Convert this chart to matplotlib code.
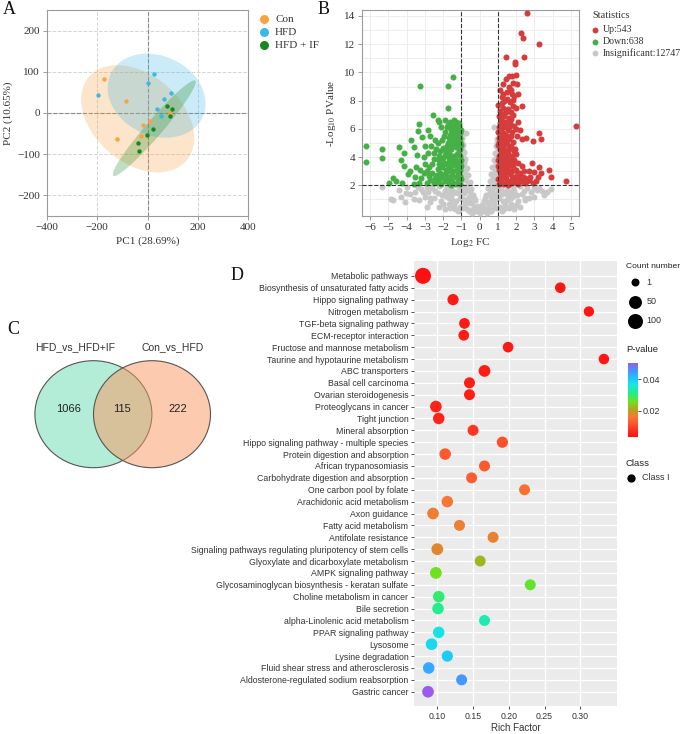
import matplotlib
matplotlib.use("Agg")
import matplotlib.pyplot as plt
import numpy as np
from matplotlib.patches import Ellipse
from matplotlib.colors import LinearSegmentedColormap, Normalize
from matplotlib.cm import ScalarMappable

SERIF = "Liberation Serif"
SANS = "Liberation Sans"
plt.rcParams["mathtext.fontset"] = "stix"

W, H = 682, 734

# ---------------- A: PCA ----------------
pca_groups = ["Con", "HFD", "HFD + IF"]
pca_colors = ["#F9A23F", "#3CB8E3", "#18881C"]
con_pc1 = [-174, -87, -120, -19, 11, -27, 89]
con_pc2 = [82, 30, -63, -29, -19, -55, 0]
hfd_pc1 = [-198, 26, 1, 93, 64, 36, 55]
hfd_pc2 = [43, 95, 72, 48, 34, 10, -7]
hfdif_pc1 = [79, 98, 89, 23, -2, -36, -35]
hfdif_pc2 = [18, 9, -7, -39, -53, -74, -93]
# confidence ellipses: centre, half extent in x / y, correlation
ell_cx = [-39, 36, 27]
ell_cy = [-14, 42, -37]
ell_rx = [225, 195, 165]
ell_ry = [130, 102, 116]
ell_rho = [-0.36, -0.19, 0.965]

# ---------------- B: volcano ----------------
volcano_counts = {"Up": 543, "Down": 638, "Insignificant": 12747}
up_pts = [
    (2.6, 14.2), (2.25, 12.8), (2.38, 12.46), (3.27, 12.04), (1.47, 11.1), (2.44, 11.07),
    (1.93, 10.74), (1.93, 10.57), (5.27, 6.18), (3.27, 5.69), (3.35, 5.26), (2.93, 5.11),
    (2.53, 5.35), (2.2, 5.92), (2.05, 5.52), (3.78, 3.09), (3.89, 2.61), (4.73, 2.31),
    (2.89, 3.6), (3.25, 3.32), (3.35, 2.9), (3.0, 2.92), (2.75, 2.61), (2.31, 3.39), (2.47, 2.49),
    (1.05, 2.1), (1.2, 2.2), (1.35, 2.1), (1.5, 2.3), (1.7, 2.15), (1.9, 2.25), (2.1, 2.1),
    (2.3, 2.3), (2.5, 2.15), (2.7, 2.4), (1.1, 2.6), (1.3, 2.7), (1.45, 2.55), (1.65, 2.8),
    (1.85, 2.6), (2.05, 2.75), (2.25, 2.6), (1.05, 3.1), (1.2, 3.0), (1.4, 3.2), (1.6, 3.05),
    (1.8, 3.3), (2.0, 3.1), (1.1, 3.6), (1.25, 3.5), (1.45, 3.7), (1.65, 3.55), (1.9, 3.8),
    (1.05, 4.1), (1.2, 4.2), (1.35, 4.0), (1.55, 4.3), (1.75, 4.1), (1.1, 4.6), (1.3, 4.7),
    (1.5, 4.5), (1.7, 4.8), (1.95, 4.6), (1.05, 5.1), (1.2, 5.2), (1.4, 5.0), (1.6, 5.3),
    (1.85, 5.1), (1.1, 5.6), (1.3, 5.7), (1.5, 5.5), (1.75, 5.8), (1.05, 6.1), (1.25, 6.3),
    (1.45, 6.1), (1.65, 6.4), (1.9, 6.2), (1.15, 6.7), (1.35, 6.9), (1.6, 6.8), (1.85, 7.0),
    (1.1, 7.3), (1.3, 7.5), (1.55, 7.4), (2.0, 7.45), (1.2, 7.8), (1.5, 8.1), (1.82, 8.07),
    (1.75, 8.5), (1.11, 8.75), (1.27, 8.5), (1.69, 8.75), (1.6, 9.0), (1.44, 9.5), (1.6, 9.75),
    (1.78, 9.75), (1.84, 9.27), (2.0, 9.8), (2.0, 5.97), (1.15, 2.35), (1.28, 3.3), (1.15, 4.35),
    (1.25, 5.45), (1.15, 3.85), (1.35, 4.45), (1.4, 2.85), (1.22, 6.05), (1.55, 6.55),
    (1.02, 2.45), (1.18, 2.9), (1.32, 3.45), (1.48, 3.95), (1.62, 4.55), (1.42, 5.3), (1.58, 5.9),
    (1.08, 5.35), (1.38, 5.55), (1.02, 4.85), (1.28, 4.95), (1.5, 4.9), (1.72, 5.5), (1.12, 6.45),
    (1.4, 6.5), (1.05, 6.9), (1.25, 7.05), (1.45, 7.2), (1.7, 7.2), (1.02, 7.7), (1.35, 8.0),
    (1.65, 7.9), (1.9, 8.3), (1.2, 8.25), (1.55, 2.0), (1.75, 2.45), (1.95, 2.5), (2.15, 2.45),
    (2.4, 2.6), (2.6, 2.3), (2.2, 2.9), (1.75, 3.0), (1.55, 3.4), (1.85, 3.5), (2.1, 3.55),
    (1.7, 3.95), (2.0, 4.2), (1.9, 4.4), (1.3, 3.9), (1.5, 4.1), (1.02, 3.4), (1.02, 3.8),
    (1.02, 5.8), (1.6, 6.1), (1.7, 6.7), (2.1, 6.5), (1.85, 7.6), (2.1, 8.5), (2.05, 9.2),
    (1.3, 9.2), (1.5, 8.6), (2.3, 7.6), (2.3, 5.3), (2.7, 3.0), (2.9, 2.2), (2.45, 3.0),
    (3.1, 2.3), (3.2, 2.6),
]
down_pts = [
    (-1.05, 2.1), (-1.2, 2.25), (-1.35, 2.1), (-1.5, 2.3), (-1.7, 2.15), (-1.9, 2.3), (-2.1, 2.1),
    (-2.3, 2.25), (-2.5, 2.15), (-2.7, 2.35), (-2.9, 2.2), (-1.1, 2.65), (-1.3, 2.6), (-1.5, 2.75),
    (-1.7, 2.6), (-1.9, 2.8), (-2.1, 2.6), (-2.35, 2.7), (-2.6, 2.9), (-1.05, 3.1), (-1.25, 3.2),
    (-1.45, 3.05), (-1.65, 3.25), (-1.85, 3.1), (-2.05, 3.3), (-2.3, 3.15), (-1.1, 3.6), (-1.3, 3.7),
    (-1.5, 3.55), (-1.7, 3.75), (-1.95, 3.6), (-2.2, 3.8), (-1.05, 4.1), (-1.25, 4.2), (-1.45, 4.05),
    (-1.65, 4.3), (-1.9, 4.15), (-2.15, 4.4), (-2.4, 4.6), (-1.1, 4.6), (-1.3, 4.75), (-1.55, 4.6),
    (-1.8, 4.8), (-2.0, 4.65), (-1.05, 5.1), (-1.25, 5.3), (-1.45, 5.15), (-1.7, 5.35), (-1.95, 5.5),
    (-1.1, 5.7), (-1.35, 5.85), (-1.6, 5.6), (-1.8, 6.1), (-1.15, 6.2), (-1.4, 6.6), (-1.6, 6.5),
    (-1.75, 6.3), (-1.9, 6.6), (-2.53, 6.98), (-2.29, 6.63), (-2.85, 5.9), (-3.33, 6.35),
    (-3.4, 5.83), (-3.76, 5.21), (-3.62, 4.74), (-3.16, 5.45), (-3.44, 4.15), (-3.07, 4.03),
    (-2.8, 4.27), (-3.93, 2.78), (-4.15, 4.27), (-4.33, 3.8), (-4.16, 3.37), (-4.42, 4.74),
    (-5.33, 4.6), (-5.35, 3.96), (-6.24, 4.81), (-6.2, 3.68), (-4.76, 2.5), (-4.95, 2.14),
    (-4.56, 2.3), (-4.24, 2.19), (-3.55, 2.61), (-3.25, 3.08), (-3.05, 2.85), (-3.29, 9.04),
    (-1.75, 9.04), (-1.44, 9.68), (-1.73, 7.5), (-2.6, 3.5), (-2.9, 3.0), (-3.3, 2.2), (-3.6, 2.1),
    (-2.45, 5.2), (-2.65, 4.8), (-1.15, 2.4), (-1.2, 3.4), (-1.15, 4.4), (-1.2, 5.5), (-1.35, 3.9),
    (-1.6, 2.45), (-2.2, 2.45), (-2.5, 3.9), (-1.4, 6.2),
    (-1.02, 2.45), (-1.18, 2.9), (-1.32, 3.45), (-1.48, 3.95), (-1.62, 4.55), (-1.42, 5.3),
    (-1.58, 5.95), (-1.08, 5.35), (-1.38, 5.55), (-1.02, 4.85), (-1.28, 4.95), (-1.5, 4.9),
    (-1.72, 5.0), (-1.12, 6.45), (-1.25, 6.0), (-1.02, 3.8), (-1.02, 3.4), (-1.02, 5.9),
    (-1.55, 2.0), (-1.75, 2.45), (-1.95, 2.55), (-2.15, 2.9), (-2.45, 2.5), (-2.75, 2.65),
    (-2.2, 3.5), (-1.75, 3.0), (-1.55, 3.4), (-1.85, 3.5), (-2.0, 3.95), (-1.7, 3.95), (-2.2, 4.1),
    (-1.9, 4.5), (-2.3, 5.0), (-2.05, 5.2), (-1.9, 5.8), (-2.1, 6.1), (-1.55, 6.3), (-3.0, 3.5),
    (-2.75, 3.3), (-3.2, 2.5), (-2.5, 4.3), (-2.25, 6.5), (-3.5, 3.3), (-3.8, 3.0), (-3.0, 4.8),
    (-2.7, 5.5), (-1.3, 6.5),
]
insig_pts = [
    (0.0, 0.05), (0.08, 0.3), (-0.08, 0.3), (0.15, 0.6), (-0.15, 0.55), (0.25, 0.9), (-0.25, 0.95),
    (0.35, 1.3), (-0.35, 1.35), (0.45, 1.8), (-0.45, 1.75), (0.55, 2.3), (-0.55, 2.25), (0.62, 2.8),
    (-0.63, 2.75), (0.7, 3.3), (-0.7, 3.25), (0.78, 3.8), (-0.78, 3.85), (0.85, 4.3), (-0.86, 4.35),
    (0.92, 4.8), (-0.92, 4.85), (0.96, 5.3), (-0.96, 5.35), (0.78, 6.1), (-0.75, 5.73), (0.98, 5.8),
    (-0.98, 5.6), (0.3, 0.4), (-0.3, 0.45), (0.5, 0.7), (-0.5, 0.75), (0.6, 1.2), (-0.6, 1.15),
    (0.7, 1.7), (-0.7, 1.65), (0.8, 2.3), (-0.8, 2.35), (0.88, 2.9), (-0.88, 2.85), (0.95, 3.5),
    (-0.95, 3.45), (0.9, 3.9), (-0.9, 4.0), (0.45, 0.3), (-0.45, 0.25), (0.75, 0.9), (-0.75, 0.95),
    (0.85, 1.4), (-0.85, 1.45), (0.95, 2.0), (-0.95, 1.95), (0.98, 4.5), (-0.98, 4.6), (0.6, 0.2),
    (-0.6, 0.2), (0.2, 0.15), (-0.2, 0.15), (0.9, 0.4), (-0.9, 0.4), (0.95, 2.6), (-0.95, 2.6),
    (0.4, 0.8), (-0.4, 0.8), (0.55, 1.5), (-0.55, 1.5), (0.65, 2.1), (-0.65, 2.1), (0.75, 2.6),
    (-0.75, 2.6), (0.82, 3.1), (-0.82, 3.1), (0.88, 3.6), (-0.88, 3.6), (0.94, 4.1), (-0.94, 4.1),
    (0.97, 5.0), (-0.97, 5.0), (0.7, 0.3), (-0.7, 0.3), (0.8, 0.7), (-0.8, 0.7), (0.9, 1.0),
    (-0.9, 1.0), (0.98, 1.5), (-0.98, 1.5), (0.85, 1.9), (-0.85, 1.9), (0.65, 0.9), (-0.65, 0.9),
    (0.4, 0.05), (-0.4, 0.05), (0.98, 3.0), (-0.98, 3.0), (0.3, 1.1), (-0.3, 1.1),
    (1.1, 0.5), (1.3, 0.9), (1.2, 1.4), (1.5, 1.7), (1.4, 0.6), (1.7, 1.1), (1.9, 1.6), (2.1, 0.9),
    (2.3, 1.4), (2.6, 1.8), (2.5, 1.1), (2.8, 1.5), (3.0, 1.2), (3.16, 1.67), (3.25, 1.84),
    (3.9, 1.76), (3.5, 1.3), (2.47, 0.96), (1.6, 0.4), (2.0, 0.6), (1.05, 1.1), (1.15, 1.8),
    (1.8, 1.9), (2.2, 1.95), (1.35, 0.3), (1.55, 1.2), (2.05, 1.35), (1.3, 1.55), (1.7, 0.7),
    (1.2, 0.2), (1.5, 0.95), (1.9, 0.3), (2.2, 0.5), (2.7, 1.1), (1.45, 1.45), (1.85, 1.25),
    (2.45, 1.6), (2.95, 1.8), (3.4, 1.6), (3.7, 1.5), (1.1, 1.95), (1.65, 1.5),
    (-1.1, 0.5), (-1.3, 0.9), (-1.2, 1.45), (-1.5, 1.7), (-1.4, 0.6), (-1.7, 1.1), (-1.9, 1.6),
    (-2.1, 0.9), (-2.3, 1.45), (-2.6, 1.8), (-2.5, 1.1), (-2.8, 1.5), (-3.0, 1.2), (-3.2, 1.75),
    (-3.53, 1.55), (-3.8, 1.39), (-4.05, 1.48), (-4.07, 0.84), (-4.75, 0.96), (-4.85, 1.0),
    (-1.6, 0.4), (-2.0, 0.65), (-1.05, 1.1), (-1.15, 1.85), (-1.8, 1.9), (-2.2, 1.95), (-2.7, 0.8),
    (-3.3, 0.95), (-4.4, 1.7), (-5.35, 1.9), (-1.35, 0.3), (-1.55, 1.25), (-2.05, 1.35),
    (-1.3, 1.55), (-1.7, 0.7), (-3.4, 1.9), (-2.9, 1.85), (-4.0, 1.9),
    (-2.9, 0.5), (-3.6, 1.0), (-4.3, 1.2), (-3.1, 1.55), (-2.45, 1.6), (-1.65, 1.5), (-1.85, 1.25),
    (-1.45, 1.45), (-2.7, 1.1), (-2.2, 0.5), (-1.9, 0.3), (-1.2, 0.2), (-1.5, 0.95),
]

# ---------------- C: Venn ----------------
venn_sets = ["HFD_vs_HFD+IF", "Con_vs_HFD"]
venn_counts = [1066, 115, 222]  # left only, shared, right only

# ---------------- D: KEGG enrichment ----------------
pathways = [
    "Metabolic pathways", "Biosynthesis of unsaturated fatty acids", "Hippo signaling pathway",
    "Nitrogen metabolism", "TGF-beta signaling pathway", "ECM-receptor interaction",
    "Fructose and mannose metabolism", "Taurine and hypotaurine metabolism", "ABC transporters",
    "Basal cell carcinoma", "Ovarian steroidogenesis", "Proteoglycans in cancer", "Tight junction",
    "Mineral absorption", "Hippo signaling pathway - multiple species",
    "Protein digestion and absorption", "African trypanosomiasis",
    "Carbohydrate digestion and absorption", "One carbon pool by folate",
    "Arachidonic acid metabolism", "Axon guidance", "Fatty acid metabolism", "Antifolate resistance",
    "Signaling pathways regulating pluripotency of stem cells",
    "Glyoxylate and dicarboxylate metabolism", "AMPK signaling pathway",
    "Glycosaminoglycan biosynthesis - keratan sulfate", "Choline metabolism in cancer",
    "Bile secretion", "alpha-Linolenic acid metabolism", "PPAR signaling pathway", "Lysosome",
    "Lysine degradation", "Fluid shear stress and atherosclerosis",
    "Aldosterone-regulated sodium reabsorption", "Gastric cancer",
]
rich_factor = [
    0.080, 0.272, 0.122, 0.312, 0.138, 0.137, 0.199, 0.333, 0.166, 0.145, 0.145, 0.098, 0.102,
    0.150, 0.191, 0.111, 0.166, 0.148, 0.222, 0.114, 0.094, 0.131, 0.178, 0.100, 0.160, 0.098,
    0.230, 0.102, 0.101, 0.166, 0.102, 0.092, 0.114, 0.088, 0.134, 0.087,
]
p_value = [
    0.0036, 0.0045, 0.0048, 0.0042, 0.0050, 0.0051, 0.0047, 0.0044, 0.0052, 0.0053, 0.0054,
    0.0058, 0.0060, 0.0083, 0.0116, 0.0125, 0.0125, 0.0130, 0.0153, 0.0160, 0.0167, 0.0167,
    0.0172, 0.0177, 0.0224, 0.0256, 0.0266, 0.0299, 0.0317, 0.0340, 0.0370, 0.0383, 0.0397,
    0.0435, 0.0449, 0.0505,
]
gene_count = [
    130, 15, 22, 12, 16, 16, 15, 14, 30, 19, 19, 28, 26, 19, 22, 26, 19, 19, 19, 26, 28, 19,
    19, 30, 19, 30, 19, 26, 26, 19, 26, 28, 22, 26, 19, 28,
]
count_breaks = [1, 50, 100]
pv_ticks = [0.02, 0.04]
pv_range = (0.0036, 0.0505)


def px_axes(fig, x0, y0, x1, y1):
    return fig.add_axes([x0 / W, 1 - y1 / H, (x1 - x0) / W, (y1 - y0) / H])


def cov_ellipse(cx, cy, rx, ry, rho, **kw):
    cov = np.array([[rx ** 2, rho * rx * ry], [rho * rx * ry, ry ** 2]])
    vals, vecs = np.linalg.eigh(cov)
    ang = np.degrees(np.arctan2(vecs[1, 1], vecs[0, 1]))
    return Ellipse((cx, cy), 2 * np.sqrt(vals[1]), 2 * np.sqrt(vals[0]), angle=ang, **kw)


def count_to_s(c):
    d_px = 8 + 8 * np.sqrt((np.asarray(c, float) - 1) / (max(gene_count) - 1))
    return (d_px * 0.72) ** 2


fig = plt.figure(figsize=(W / 100, H / 100), dpi=100)

# ---- A ----
ax = px_axes(fig, 47, 10, 248, 216)
pcs = [(con_pc1, con_pc2), (hfd_pc1, hfd_pc2), (hfdif_pc1, hfdif_pc2)]
for i, col in enumerate(pca_colors):
    ax.add_patch(cov_ellipse(ell_cx[i], ell_cy[i], ell_rx[i], ell_ry[i], ell_rho[i],
                             facecolor=col, alpha=0.27, edgecolor="none", zorder=2))
for (x, y), col in zip(pcs, pca_colors):
    ax.scatter(x, y, s=10, color=col, zorder=4, linewidths=0)
ax.set_xlim(-400, 400)
ax.set_ylim(-250, 250)
ax.set_xticks([-400, -200, 0, 200, 400])
ax.set_yticks([-200, -100, 0, 100, 200])
ax.grid(ls="--", color="#D4D4D4", lw=0.7, zorder=0)
ax.set_axisbelow(True)
ax.axhline(0, ls="--", color="#8A8A8A", lw=0.8, zorder=1)
ax.axvline(0, ls="--", color="#8A8A8A", lw=0.8, zorder=1)
for sp in ax.spines.values():
    sp.set_color("#9A9A9A")
    sp.set_linewidth(0.8)
ax.tick_params(length=3, width=0.7, color="#9A9A9A", labelsize=8, labelcolor="#333333", pad=2)
for t in ax.get_xticklabels() + ax.get_yticklabels():
    t.set_fontfamily(SERIF)
ax.set_xlabel("PC1 (28.69%)", fontsize=8, family=SERIF, color="#333333", labelpad=3)
ax.set_ylabel("PC2 (10.65%)", fontsize=8, family=SERIF, color="#333333", labelpad=3)

# ---- B ----
bx = px_axes(fig, 362, 10, 579, 216)
for pts, col in [(insig_pts, "#C8C8C8"), (down_pts, "#45B045"), (up_pts, "#D63C3C")]:
    arr = np.array(pts)
    bx.scatter(arr[:, 0], arr[:, 1], s=19, color=col, linewidths=0, zorder=3)
bx.set_xlim(-6.44, 5.44)
bx.set_ylim(-0.17, 14.42)
bx.set_xticks(range(-6, 6))
bx.set_yticks(range(2, 15, 2))
bx.set_yticks(range(1, 15, 2), minor=True)
bx.grid(which="both", color="#EAEAEA", lw=0.6, zorder=0)
bx.tick_params(which="minor", length=0)
bx.set_axisbelow(True)
bx.axvline(-1, ls="--", color="#333333", lw=0.8, zorder=4)
bx.axvline(1, ls="--", color="#333333", lw=0.8, zorder=4)
bx.axhline(2, ls="--", color="#333333", lw=0.8, zorder=4)
for sp in bx.spines.values():
    sp.set_color("#9A9A9A")
    sp.set_linewidth(0.8)
bx.tick_params(length=3, width=0.7, color="#9A9A9A", labelsize=8, labelcolor="#333333", pad=2)
for t in bx.get_xticklabels() + bx.get_yticklabels():
    t.set_fontfamily(SERIF)
bx.set_xlabel("Log$_{2}$ FC", fontsize=8, family=SERIF, color="#333333", labelpad=3)
bx.set_ylabel("-Log$_{10}$ PValue", fontsize=8, family=SERIF, color="#333333", labelpad=4)

# ---- D ----
dx = px_axes(fig, 414, 261, 617, 706)
n = len(pathways)
ypos = np.arange(n)
cmap = LinearSegmentedColormap.from_list("pv", list(zip(
    [0.0, 0.15, 0.27, 0.36, 0.47, 0.58, 0.70, 0.80, 0.90, 1.0],
    ["#FF1010", "#FF4A2A", "#F47A35", "#B8A020", "#70E020", "#25EE80", "#15E8E0",
     "#22C0FF", "#4A90FF", "#9B5BEE"])))
norm = Normalize(*pv_range)
dx.set_facecolor("#EBEBEB")
dx.scatter(rich_factor, ypos, s=count_to_s(gene_count), c=p_value, cmap=cmap, norm=norm,
           linewidths=0, zorder=3)
dx.set_xlim(0.0674, 0.3513)
dx.set_ylim(n - 1 + 1.2, -1.25)
dx.set_yticks(ypos)
dx.set_yticklabels(pathways)
dx.set_xticks([0.10, 0.15, 0.20, 0.25, 0.30])
dx.set_xticklabels(["0.10", "0.15", "0.20", "0.25", "0.30"])
dx.grid(color="white", lw=0.9, zorder=0)
dx.set_axisbelow(True)
for sp in dx.spines.values():
    sp.set_visible(False)
dx.tick_params(length=2.5, width=0.6, color="#333333", labelsize=6.3, labelcolor="#333333", pad=1.5)
for t in dx.get_xticklabels() + dx.get_yticklabels():
    t.set_fontfamily(SANS)
dx.set_xlabel("Rich Factor", fontsize=7, family=SANS, color="#333333", labelpad=2)

cax = px_axes(fig, 627.5, 362.7, 637.5, 436.7)
cb = fig.colorbar(ScalarMappable(norm=norm, cmap=cmap), cax=cax, ticks=pv_ticks)
cb.outline.set_visible(False)
cb.ax.tick_params(length=2, width=0.6, color="#333333", labelsize=6.5, labelcolor="#333333", pad=1.5)
cb.ax.set_yticklabels([f"{v:.2f}" for v in pv_ticks])
for t in cb.ax.get_yticklabels():
    t.set_fontfamily(SANS)

# ---- overlay: panel letters, legends, Venn ----
ov = fig.add_axes([0, 0, 1, 1])
ov.set_xlim(0, W)
ov.set_ylim(H, 0)
ov.axis("off")
ov.patch.set_alpha(0)

for letter, (x, y) in zip("ABCD", [(9, 10), (324, 9), (13, 329), (237, 276)]):
    ov.text(x, y, letter, fontsize=13, family=SERIF, ha="center", va="center", color="#111111")

# legend A
for i, (g, col) in enumerate(zip(pca_groups, pca_colors)):
    yy = 19.3 + i * 13
    ov.scatter(264, yy, s=42, color=col, linewidths=0)
    ov.text(275, yy, g, fontsize=8, family=SERIF, va="center", color="#333333")

# legend B
ov.text(592, 16, "Statistics", fontsize=7.4, family=SERIF, va="center", color="#333333")
for i, ((name, cnt), col) in enumerate(zip(volcano_counts.items(), ["#D63C3C", "#45B045", "#C8C8C8"])):
    yy = 29.7 + i * 11.8
    ov.scatter(595, yy, s=18, color=col, linewidths=0)
    ov.text(603, yy, f"{name}:{cnt}", fontsize=7.1, family=SERIF, va="center", color="#333333")

# Venn
venn_fill = ["#69DDB1", "#FA9761"]
for cx, fc in zip([93.4, 152.0], venn_fill):
    ov.add_patch(Ellipse((cx, 414.2), 117, 107, facecolor=fc, alpha=0.5, edgecolor="none"))
    ov.add_patch(Ellipse((cx, 414.2), 117, 107, facecolor="none", edgecolor="#555555", lw=0.8))
ov.text(75, 347.3, venn_sets[0], fontsize=7.5, family=SANS, ha="center", va="center", color="#333333")
ov.text(172.7, 347.3, venn_sets[1], fontsize=7.5, family=SANS, ha="center", va="center", color="#333333")
for x, v in zip([68.3, 122.3, 178.3], venn_counts):
    ov.text(x, 409.3, str(v), fontsize=8, family=SANS, ha="center", va="center", color="#222222")

# legend D
ov.text(626, 267, "Count number", fontsize=6.1, family=SANS, va="center", color="#222222")
for i, c in enumerate(count_breaks):
    yy = 282.3 + i * 19.2
    ov.scatter(635, yy, s=count_to_s(c), color="black", linewidths=0)
    ov.text(646.5, yy, str(c), fontsize=6.5, family=SANS, va="center", color="#333333")
ov.text(626, 350, "P-value", fontsize=6.8, family=SANS, va="center", color="#222222")
ov.text(626, 464, "Class", fontsize=6.8, family=SANS, va="center", color="#222222")
ov.scatter(631, 477.7, s=(8.3 * 0.72) ** 2, color="black", linewidths=0)
ov.text(642, 477.7, "Class I", fontsize=6.5, family=SANS, va="center", color="#333333")

fig.savefig("out.png", dpi=100)
